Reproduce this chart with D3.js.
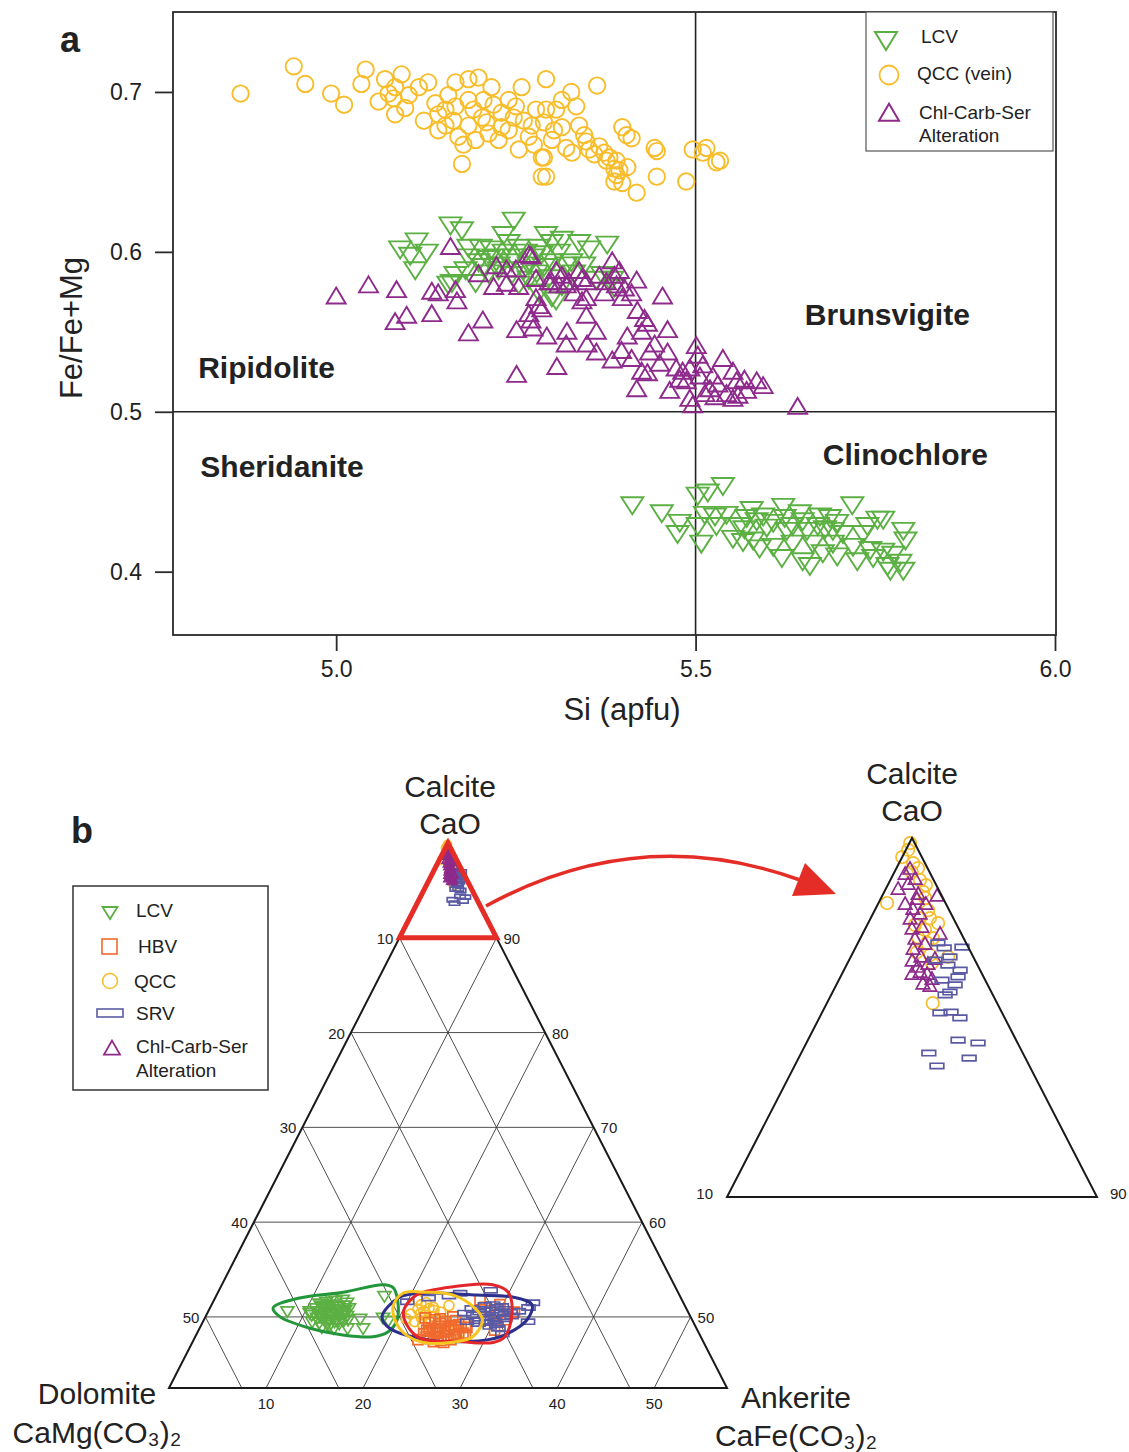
<!DOCTYPE html>
<html>
<head>
<meta charset="utf-8">
<script src="https://cdn.jsdelivr.net/npm/d3@7"></script>
<style>
  body { margin: 0; background: #fff; }
  text { font-family: "Liberation Sans", Arial, sans-serif; fill: #222; }
</style>
</head>
<body>
<div id="chart"></div>
<script>
// ---------- panel a data: [Si apfu, Fe/(Fe+Mg)] ----------
var qccVein = [
  [4.867,0.699],[4.941,0.716],[4.957,0.705],[4.993,0.699],[5.011,0.692],[5.041,0.714],[5.035,0.705],
  [5.068,0.708],[5.091,0.711],[5.059,0.694],[5.073,0.699],[5.082,0.703],[5.096,0.690],[5.082,0.686],
  [5.115,0.703],[5.128,0.706],[5.122,0.682],[5.138,0.693],[5.152,0.679],[5.166,0.706],[5.184,0.708],
  [5.198,0.709],[5.175,0.655],[5.166,0.691],[5.184,0.695],[5.203,0.684],[5.216,0.703],[5.212,0.674],
  [5.230,0.678],[5.258,0.703],[5.286,0.647],[5.286,0.659],[5.254,0.664],[5.230,0.687],[5.250,0.691],
  [5.278,0.689],[5.194,0.670],[5.170,0.672],[5.152,0.689],[5.268,0.672],[5.080,0.696],[5.101,0.698],
  [5.142,0.676],[5.184,0.679],[5.205,0.695],[5.226,0.670],[5.240,0.676],[5.177,0.667],[5.163,0.682],
  [5.191,0.689],[5.219,0.692],[5.261,0.682],[5.240,0.695],[5.292,0.708],[5.363,0.704],[5.327,0.700],
  [5.314,0.695],[5.334,0.691],[5.292,0.689],[5.306,0.689],[5.338,0.679],[5.289,0.681],[5.314,0.678],
  [5.398,0.678],[5.404,0.673],[5.411,0.671],[5.300,0.670],[5.348,0.669],[5.320,0.665],[5.328,0.662],
  [5.366,0.666],[5.373,0.662],[5.380,0.659],[5.390,0.657],[5.443,0.665],[5.446,0.663],[5.496,0.664],
  [5.515,0.665],[5.510,0.662],[5.534,0.657],[5.529,0.656],[5.289,0.659],[5.292,0.647],[5.387,0.652],
  [5.405,0.653],[5.390,0.648],[5.387,0.644],[5.398,0.643],[5.446,0.647],[5.487,0.644],[5.418,0.637],
  [5.376,0.657],[5.352,0.664],[5.345,0.673],[5.359,0.661],[5.394,0.651],[5.275,0.667],[5.303,0.676],
  [5.156,0.698],[5.142,0.686],[5.247,0.684],[5.209,0.681],[5.272,0.679]
];
var lcvChl = [
  [5.089,0.603],[5.112,0.608],[5.103,0.599],[5.126,0.601],[5.110,0.590],[5.159,0.618],[5.175,0.615],
  [5.247,0.621],[5.233,0.612],[5.201,0.604],[5.216,0.603],[5.264,0.601],[5.292,0.612],[5.300,0.607],
  [5.314,0.609],[5.338,0.607],[5.352,0.603],[5.377,0.606],[5.286,0.600],[5.320,0.593],[5.184,0.598],
  [5.198,0.595],[5.212,0.597],[5.244,0.595],[5.268,0.593],[5.300,0.595],[5.327,0.595],[5.166,0.587],
  [5.156,0.581],[5.194,0.582],[5.180,0.590],[5.226,0.590],[5.362,0.584],[5.384,0.584],[5.300,0.573],
  [5.370,0.587],[5.387,0.579],[5.306,0.571],[5.161,0.582],[5.212,0.588],[5.244,0.587],[5.268,0.584],
  [5.233,0.601],[5.247,0.598],[5.254,0.604],[5.275,0.598],[5.289,0.592],[5.261,0.590],[5.282,0.604],
  [5.310,0.601],[5.205,0.592],[5.219,0.598],[5.184,0.604],[5.226,0.593],[5.240,0.607],[5.279,0.588],
  [5.296,0.585],[5.331,0.588],[5.345,0.593],[5.254,0.581],[5.314,0.580],[5.282,0.576],
  // clinochlore group
  [5.412,0.443],[5.453,0.438],[5.478,0.432],[5.475,0.425],[5.503,0.449],[5.517,0.451],[5.538,0.455],
  [5.503,0.430],[5.508,0.419],[5.529,0.430],[5.527,0.436],[5.543,0.437],[5.552,0.422],[5.561,0.430],
  [5.571,0.435],[5.578,0.440],[5.585,0.433],[5.594,0.436],[5.589,0.416],[5.599,0.429],[5.608,0.417],
  [5.608,0.432],[5.622,0.442],[5.624,0.435],[5.620,0.410],[5.635,0.419],[5.635,0.430],[5.645,0.438],
  [5.649,0.433],[5.649,0.408],[5.659,0.405],[5.663,0.419],[5.670,0.430],[5.673,0.436],[5.677,0.413],
  [5.687,0.435],[5.691,0.419],[5.697,0.411],[5.705,0.425],[5.718,0.443],[5.719,0.417],[5.725,0.408],
  [5.733,0.425],[5.739,0.430],[5.743,0.415],[5.753,0.434],[5.761,0.434],[5.747,0.410],[5.761,0.414],
  [5.767,0.405],[5.771,0.402],[5.785,0.407],[5.789,0.427],[5.792,0.421],[5.789,0.402],[5.775,0.412],
  [5.566,0.420],[5.580,0.421],[5.627,0.427],[5.655,0.427],[5.697,0.432],[5.691,0.427],[5.513,0.437],
  [5.568,0.428],[5.680,0.428]
];
var ccsChl = [
  [5.000,0.571],[5.045,0.578],[5.084,0.575],[5.133,0.574],[5.142,0.573],[5.166,0.575],[5.168,0.568],
  [5.082,0.555],[5.098,0.559],[5.133,0.560],[5.184,0.548],[5.204,0.556],[5.159,0.602],[5.223,0.590],
  [5.251,0.550],[5.271,0.556],[5.274,0.551],[5.293,0.546],[5.321,0.549],[5.320,0.541],[5.307,0.527],
  [5.251,0.522],[5.348,0.559],[5.349,0.541],[5.362,0.536],[5.384,0.593],[5.387,0.584],[5.398,0.570],
  [5.418,0.581],[5.419,0.562],[5.429,0.557],[5.433,0.554],[5.454,0.571],[5.461,0.550],[5.405,0.546],
  [5.425,0.549],[5.384,0.531],[5.397,0.537],[5.411,0.532],[5.436,0.536],[5.461,0.536],[5.425,0.524],
  [5.433,0.523],[5.418,0.513],[5.464,0.512],[5.482,0.524],[5.487,0.518],[5.492,0.507],[5.501,0.540],
  [5.503,0.534],[5.510,0.528],[5.524,0.521],[5.538,0.532],[5.520,0.513],[5.552,0.524],[5.557,0.518],
  [5.571,0.512],[5.552,0.507],[5.585,0.518],[5.594,0.515],[5.642,0.502],[5.496,0.503],[5.543,0.510],
  [5.559,0.509],[5.478,0.519],[5.473,0.526],[5.362,0.549],[5.342,0.568],[5.348,0.580],[5.376,0.580],
  [5.390,0.578],[5.314,0.584],[5.310,0.578],[5.296,0.580],[5.278,0.570],[5.286,0.563],[5.268,0.560],
  [5.324,0.580],[5.306,0.587],[5.338,0.587],[5.268,0.597],[5.237,0.579],[5.198,0.585],[5.219,0.577],
  [5.237,0.588],[5.250,0.588],[5.271,0.596],[5.254,0.577],[5.278,0.582],[5.300,0.580],[5.320,0.578],
  [5.342,0.582],[5.366,0.584],[5.394,0.587],[5.348,0.570],[5.282,0.565],[5.401,0.576],[5.411,0.573],
  [5.373,0.573],[5.331,0.573],[5.443,0.541],[5.450,0.529],[5.506,0.521],[5.531,0.516],[5.568,0.519],
  [5.492,0.526],[5.513,0.510],[5.527,0.508]
];
var siTicks = [5.0, 5.5, 6.0];
var feTicks = [0.4, 0.5, 0.6, 0.7];
var fieldNames = [["Ripidolite",4.808,0.521],["Sheridanite",4.811,0.459],["Brunsvigite",5.652,0.554],["Clinochlore",5.677,0.467]];

// ---------- panel b data: [CaO, FeO], MgO = rest ----------
var ternLCV = [
  [50.7,8.1],[50.7,10.4],[49.7,13.7],[48.9,15.2],[49.9,16.0],[48.9,16.8],[52.3,17.3],[50.0,18.3],[49.7,19.0],
  [51.5,11.0],[51.0,11.8],[50.5,12.3],[50.0,11.5],[49.5,12.0],[51.8,12.5],[51.2,13.0],[50.4,13.4],[49.8,12.8],
  [49.2,13.2],[50.8,14.0],[50.2,14.5],[51.6,13.8],[49.6,11.2],[50.9,12.7],[50.3,10.8],[49.4,14.1],[51.3,11.4],
  [50.6,13.9],[49.0,12.5],[52.0,12.0],[50.1,13.1],[49.8,14.8],[51.0,10.9],[50.4,12.0],
  [51.2,11.5],[50.7,11.2],[49.9,12.2],[50.3,12.9],[51.4,12.2],[50.8,13.3],[49.6,13.5],[51.0,14.3],[50.0,14.0],
  [50.5,10.5],[51.7,11.6],[49.3,12.9],[50.9,11.9],[51.9,13.2],[50.2,11.7],[49.7,14.4],[50.6,12.6],[51.3,13.6],
  [48.9,13.8],[50.4,14.2]
];
var ternHBV = [
  [49.0,24.5],[48.5,25.5],[48.0,26.0],[49.2,26.5],[48.8,24.0],[47.8,25.0],[48.2,27.0],[49.5,25.0],[48.6,23.5],
  [47.6,26.5],[48.9,27.5],[49.8,24.3],[48.3,24.8],[47.9,23.8],[49.1,25.8],[48.0,27.8],[47.5,25.5],[48.7,26.2],
  [50.0,25.5],[49.4,23.3],[51.8,27.4],[51.3,29.7],[50.7,29.0],[49.7,31.0],[48.6,30.5],[50.5,31.6],[49.9,22.7],
  [47.6,23.1],[51.0,28.3],[50.2,30.0],
  [48.4,25.0],[49.0,25.2],[48.1,26.6],[48.9,26.9],[47.7,24.3],[49.3,24.6],[48.5,23.8],[48.0,25.6],[49.6,26.0],
  [48.3,27.4],[47.4,24.8],[48.8,25.7],[49.2,27.2],[47.9,26.9],[48.6,24.4],[49.7,23.8],[48.2,23.4],[47.3,25.9]
];
var ternQCC = [
  [50.2,22.5],[50.8,21.5],[51.5,22.0],[49.5,21.8],[50.0,23.5],[51.0,23.0],[49.8,20.8],[50.5,24.0],[51.8,21.0],
  [49.2,22.8],[50.3,21.0],[48.8,23.8],[51.2,24.5],[50.6,22.2],[49.6,24.8],[48.5,25.5],[49.0,26.5],[48.2,27.0],
  [50.4,22.0],[49.9,22.3],[50.7,23.2],[51.3,21.6],[49.7,23.2],[50.9,22.6],
  // calcite end
  [99.86,0.02],[99.47,0.0],[99.3,0.38],[99.05,0.47],[99.16,0.58],[98.19,0.23],[98.69,1.03],[98.5,1.05],
  [98.33,1.19],[97.99,1.44],[97.77,1.60],[97.77,1.33],[97.63,1.89],[97.24,1.54],[97.08,1.87],[97.21,1.96],
  [96.82,1.72],[96.74,2.12],[96.69,2.63],[96.52,2.28],[95.4,2.86],[99.67,0.06],[98.83,0.80],[97.58,1.29],
  [97.44,1.63]
];
var ternSRV = [
  [50.5,28.0],[50.0,29.0],[49.6,30.0],[50.8,30.5],[50.2,27.5],[49.3,28.5],[51.0,29.5],[49.8,31.0],[50.4,26.5],
  [49.0,29.8],[50.9,27.0],[49.5,27.2],[50.1,31.5],[51.2,28.2],[48.8,30.8],[50.6,32.0],[52.5,25.0],[52.0,22.0],
  [51.6,20.0],[52.2,24.0],[51.5,33.0],[51.0,32.8],[49.5,33.5],[48.2,31.5],[52.8,28.0],
  [50.3,28.6],[49.9,29.6],[50.7,29.2],[49.6,28.1],[50.4,30.3],[51.1,30.0],[49.2,30.4],[50.0,30.8],[50.8,27.8],
  [49.4,29.2],[50.5,31.2],[51.3,29.0],
  // calcite end
  [97.08,2.16],[96.94,2.40],[96.96,2.87],[96.69,2.68],[96.32,3.14],[96.13,3.18],[96.04,2.79],[95.71,3.17],
  [95.63,3.08],[95.13,3.19],[95.15,3.48],[94.99,3.80],[94.37,4.06],[94.29,4.64],[94.01,3.45],[93.87,4.61],
  [93.65,3.85],[96.46,2.74],[95.91,3.21],[96.6,2.32]
];
var ternCCS = [
  [98.55,0.35],[98.13,0.75],[97.44,1.28],[96.55,1.73],[96.24,2.10],[98.36,1.50],[95.85,2.56],[99.11,0.39],
  [98.83,0.67],[98.69,0.55],[98.41,0.96],[97.99,1.03],[97.86,1.29],[97.72,1.09],[97.49,1.52],[97.16,1.50],
  [97.02,1.84],[96.88,1.59],[96.66,1.91],[96.38,1.97],[96.18,2.32],[96.04,2.52],[95.91,2.34],[98.27,1.00],
  [98.97,0.33],[98.13,1.31],[96.6,2.32],[96.18,1.91],[96.46,2.20],[97.3,2.11]
];
var hullLCV = [[50.95,6.5],[52.0,8.7],[52.6,12.9],[53.4,16.6],[53.1,17.8],[51.8,18.9],[49.7,19.9],[48.4,19.6],[47.9,18.3],[48.1,15.1],[48.8,11.4],[50.0,7.7]];
var hullQCC = [[51.05,18.8],[52.5,19.1],[52.6,21.5],[52.3,24.4],[51.05,27.1],[49.7,28.7],[47.9,28.6],[47.3,26.6],[47.4,23.4],[48.8,20.6]];
var hullHBV = [[50.4,20.2],[52.3,20.6],[53.1,23.4],[53.4,27.9],[52.6,29.9],[50.4,31.4],[47.9,31.9],[47.3,31.0],[47.4,27.6],[47.9,22.9]];
var hullSRV = [[50.0,18.2],[52.1,19.0],[52.5,21.6],[52.3,26.8],[52.1,30.6],[51.3,33.0],[49.7,33.3],[47.9,31.4],[47.4,28.3],[47.6,24.0],[48.8,19.6]];
var gridLevels = [10, 20, 30, 40, 50];
var baseCa = 42.5; // bottom edge of the diagram

var colLCV = "#5cb043", colQCC = "#f8bd2b", colCCS = "#8d2a8b", colHBV = "#f06a2e", colSRV = "#5a5aa4";

var svg = d3.select("#chart").append("svg").attr("width", 1129).attr("height", 1452);

// marker paths
function tri(w, h, down) {
  var s = down ? -1 : 1;
  return "M0," + (-s * h * 2 / 3) + "L" + (w / 2) + "," + (s * h / 3) + "L" + (-w / 2) + "," + (s * h / 3) + "Z";
}

// ================= panel a =================
var xA = d3.scaleLinear().domain([4.773, 6.0014]).range([173, 1056]);
var yA = d3.scaleLinear().domain([0.3604, 0.75]).range([635, 12]);
var gA = svg.append("g");

gA.append("line").attr("x1", xA(5.5)).attr("x2", xA(5.5)).attr("y1", 12).attr("y2", 635)
  .attr("stroke", "#222").attr("stroke-width", 1.6);
gA.append("line").attr("x1", 173).attr("x2", 1056).attr("y1", yA(0.5)).attr("y2", yA(0.5))
  .attr("stroke", "#222").attr("stroke-width", 1.6);

gA.selectAll(".qcc").data(qccVein).enter().append("circle")
  .attr("cx", function(d) { return xA(d[0]); })
  .attr("cy", function(d) { return yA(d[1]); })
  .attr("r", 8.2).attr("fill", "none").attr("stroke", colQCC).attr("stroke-width", 1.9);

gA.selectAll(".lcv").data(lcvChl).enter().append("path")
  .attr("d", tri(22, 17, true))
  .attr("transform", function(d) { return "translate(" + xA(d[0]) + "," + yA(d[1]) + ")"; })
  .attr("fill", "none").attr("stroke", colLCV).attr("stroke-width", 1.9);

gA.selectAll(".ccs").data(ccsChl).enter().append("path")
  .attr("d", tri(19, 16, false))
  .attr("transform", function(d) { return "translate(" + xA(d[0]) + "," + yA(d[1]) + ")"; })
  .attr("fill", "none").attr("stroke", colCCS).attr("stroke-width", 1.9);

// frame
gA.append("rect").attr("x", 173).attr("y", 12).attr("width", 883).attr("height", 623)
  .attr("fill", "none").attr("stroke", "#2a2a2a").attr("stroke-width", 1.8);

var xAxis = gA.append("g").attr("transform", "translate(0,635)")
  .call(d3.axisBottom(xA).tickValues(siTicks).tickFormat(d3.format(".1f")).tickSize(16).tickPadding(10));
var yAxis = gA.append("g").attr("transform", "translate(173,0)")
  .call(d3.axisLeft(yA).tickValues(feTicks).tickFormat(d3.format(".1f")).tickSize(18).tickPadding(13));
[xAxis, yAxis].forEach(function(ax) {
  ax.select(".domain").remove();
  ax.selectAll("line").attr("stroke", "#2a2a2a").attr("stroke-width", 1.8);
  ax.selectAll("text").style("font-size", "23px").attr("fill", "#2a2a2a")
    .style("font-family", "'Liberation Sans', Arial, sans-serif");
});

gA.append("text").attr("x", 622).attr("y", 720).attr("text-anchor", "middle")
  .style("font-size", "31px").text("Si (apfu)");
gA.append("text").attr("transform", "translate(82,328) rotate(-90)").attr("text-anchor", "middle")
  .style("font-size", "31px").text("Fe/Fe+Mg");
gA.append("text").attr("x", 60).attr("y", 52).style("font-size", "36px").style("font-weight", "bold").text("a");

gA.selectAll(".field").data(fieldNames).enter().append("text")
  .attr("x", function(d) { return xA(d[1]); })
  .attr("y", function(d) { return yA(d[2]); })
  .style("font-size", "30px").style("font-weight", "bold").text(function(d) { return d[0]; });

// legend a
var legA = gA.append("g");
legA.append("rect").attr("x", 866).attr("y", 12).attr("width", 187).attr("height", 139)
  .attr("fill", "#fff").attr("stroke", "#555").attr("stroke-width", 1.2);
legA.append("path").attr("d", tri(22, 18, true)).attr("transform", "translate(886,38)")
  .attr("fill", "none").attr("stroke", colLCV).attr("stroke-width", 2);
legA.append("circle").attr("cx", 889).attr("cy", 75).attr("r", 9.5)
  .attr("fill", "none").attr("stroke", colQCC).attr("stroke-width", 1.8);
legA.append("path").attr("d", tri(20, 17, false)).attr("transform", "translate(889,115)")
  .attr("fill", "none").attr("stroke", colCCS).attr("stroke-width", 2);
var legAText = [["LCV", 921, 43], ["QCC (vein)", 917, 80], ["Chl-Carb-Ser", 919, 119], ["Alteration", 919, 142]];
legA.selectAll(".lt").data(legAText).enter().append("text")
  .attr("x", function(d) { return d[1]; }).attr("y", function(d) { return d[2]; })
  .style("font-size", "19px").text(function(d) { return d[0]; });

// ================= panel b =================
// main ternary: depth below CaO apex (100 - CaO) and horizontal offset
var yT = d3.scaleLinear().domain([0, 100 - baseCa]).range([843, 1388]);
var xT = d3.scaleLinear().domain([-(100 - baseCa) / 2, (100 - baseCa) / 2]).range([169, 727]);
function pT(ca, fe) { var L = 100 - ca; return [xT(fe - L / 2), yT(L)]; }
// inset ternary: CaO 90-100
var yI = d3.scaleLinear().domain([0, 10]).range([838, 1197]);
var xI = d3.scaleLinear().domain([-5, 5]).range([727, 1097]);
function pI(ca, fe) { var L = 100 - ca; return [xI(fe - L / 2), yI(L)]; }

var gB = svg.append("g");
var lineGen = d3.line();

// grid
var depthMax = 100 - baseCa;
gridLevels.forEach(function(c) {
  var segs = [
    [pT(100 - c, 0), pT(100 - c, c)],
    [pT(100 - c, c), pT(baseCa, c)],
    [pT(100 - c, 0), pT(baseCa, depthMax - c)]
  ];
  segs.forEach(function(s) {
    gB.append("path").attr("d", lineGen(s)).attr("stroke", "#3a3a3a").attr("stroke-width", 0.9).attr("fill", "none");
  });
});

function drawSeries(g, data, proj, kind, color, scale) {
  g.selectAll(null).data(data).enter().append("path")
    .attr("d", function(d) {
      var s = scale(d);
      if (kind === "down") return tri(13 * s, 10.5 * s, true);
      if (kind === "up") return tri(10 * s, 9 * s, false);
      if (kind === "sq") return "M" + (-5 * s) + "," + (-5 * s) + "h" + (10 * s) + "v" + (10 * s) + "h" + (-10 * s) + "Z";
      if (kind === "rect") return "M" + (-6.5 * s) + "," + (-2.6 * s) + "h" + (13 * s) + "v" + (5.2 * s) + "h" + (-13 * s) + "Z";
      return d3.arc()({ innerRadius: 0, outerRadius: 5 * s, startAngle: 0, endAngle: 2 * Math.PI });
    })
    .attr("transform", function(d) { var p = proj(d[0], d[1]); return "translate(" + p[0] + "," + p[1] + ")"; })
    .attr("fill", "none").attr("stroke", color).attr("stroke-width", 1.7);
}
var mainScale = function(d) { return d[0] > 80 ? 0.8 : 1; };
drawSeries(gB, ternLCV, pT, "down", colLCV, mainScale);
drawSeries(gB, ternQCC, pT, "circ", colQCC, mainScale);
drawSeries(gB, ternHBV, pT, "sq", colHBV, mainScale);
drawSeries(gB, ternSRV, pT, "rect", colSRV, mainScale);
drawSeries(gB, ternCCS, pT, "up", colCCS, mainScale);

// hulls
var hullGen = d3.line().curve(d3.curveCatmullRomClosed.alpha(0.5));
[[hullLCV, "#23963b"], [hullSRV, "#2d2f8c"], [hullHBV, "#e3262a"], [hullQCC, "#f7c51e"]].forEach(function(h) {
  gB.append("path").attr("d", hullGen(h[0].map(function(d) { return pT(d[0], d[1]); })))
    .attr("fill", "none").attr("stroke", h[1]).attr("stroke-width", 3);
});

// outer triangle
gB.append("path").attr("d", lineGen([pT(100, 0), pT(baseCa, 0), pT(baseCa, depthMax)]) + "Z")
  .attr("fill", "none").attr("stroke", "#1a1a1a").attr("stroke-width", 2);

// edge labels
gB.selectAll(".ll").data(gridLevels).enter().append("text")
  .attr("x", function(d) { return pT(100 - d, 0)[0] - 6; })
  .attr("y", function(d) { return pT(100 - d, 0)[1] + 6; })
  .attr("text-anchor", "end").style("font-size", "15px").attr("fill", "#333")
  .text(function(d) { return d; });
gB.selectAll(".rl").data(gridLevels).enter().append("text")
  .attr("x", function(d) { return pT(100 - d, d)[0] + 7; })
  .attr("y", function(d) { return pT(100 - d, d)[1] + 6; })
  .attr("text-anchor", "start").style("font-size", "15px").attr("fill", "#333")
  .text(function(d) { return 100 - d; });
gB.selectAll(".bl").data(gridLevels).enter().append("text")
  .attr("x", function(d) { return pT(baseCa, d)[0]; })
  .attr("y", 1409)
  .attr("text-anchor", "middle").style("font-size", "15px").attr("fill", "#333")
  .text(function(d) { return d; });

// red zoom triangle
gB.append("path").attr("d", lineGen([pT(100, 0), pT(90, 0), pT(90, 10)]) + "Z")
  .attr("fill", "none").attr("stroke", "#e52d27").attr("stroke-width", 5).attr("stroke-linejoin", "miter");

// arrow
var arrow = d3.path();
arrow.moveTo(486, 906);
arrow.quadraticCurveTo(640, 822, 800, 880);
gB.append("path").attr("d", arrow.toString()).attr("fill", "none").attr("stroke", "#e52d27").attr("stroke-width", 3.5);
gB.append("path").attr("d", "M836,894L792,896L805,863Z").attr("fill", "#e52d27");

// inset triangle
var gI = svg.append("g");
var insetScale = function() { return 1.25; };
drawSeries(gI, ternQCC.filter(function(d) { return d[0] >= 90; }), pI, "circ", colQCC, insetScale);
drawSeries(gI, ternCCS, pI, "up", colCCS, function() { return 1.35; });
drawSeries(gI, ternSRV.filter(function(d) { return d[0] >= 90; }), pI, "rect", colSRV, function() { return 1.05; });
gI.append("path").attr("d", lineGen([pI(100, 0), pI(90, 0), pI(90, 10)]) + "Z")
  .attr("fill", "none").attr("stroke", "#1a1a1a").attr("stroke-width", 2);
gI.append("text").attr("x", pI(90, 0)[0] - 14).attr("y", 1199).attr("text-anchor", "end")
  .style("font-size", "15px").attr("fill", "#333").text("10");
gI.append("text").attr("x", pI(90, 10)[0] + 13).attr("y", 1199).attr("text-anchor", "start")
  .style("font-size", "15px").attr("fill", "#333").text("90");

// vertex names
var vertexText = [
  ["Calcite", 450, 797], ["CaO", 450, 834], ["Calcite", 912, 784], ["CaO", 912, 821],
  ["Dolomite", 97, 1404], ["CaMg(CO\u2083)\u2082", 97, 1443], ["Ankerite", 796, 1408], ["CaFe(CO\u2083)\u2082", 796, 1446]
];
svg.selectAll(".vt").data(vertexText).enter().append("text")
  .attr("x", function(d) { return d[1]; }).attr("y", function(d) { return d[2]; })
  .attr("text-anchor", "middle").style("font-size", "30px").text(function(d) { return d[0]; });
svg.append("text").attr("x", 71).attr("y", 843).style("font-size", "36px").style("font-weight", "bold").text("b");

// legend b
var legB = svg.append("g");
legB.append("rect").attr("x", 73).attr("y", 886).attr("width", 195).attr("height", 204)
  .attr("fill", "#fff").attr("stroke", "#333").attr("stroke-width", 1.5);
legB.append("path").attr("d", tri(15, 12, true)).attr("transform", "translate(110,911)")
  .attr("fill", "none").attr("stroke", colLCV).attr("stroke-width", 1.8);
legB.append("rect").attr("x", 102).attr("y", 939).attr("width", 15).attr("height", 15)
  .attr("fill", "none").attr("stroke", colHBV).attr("stroke-width", 1.6);
legB.append("circle").attr("cx", 110).attr("cy", 981).attr("r", 7.5)
  .attr("fill", "none").attr("stroke", colQCC).attr("stroke-width", 1.6);
legB.append("rect").attr("x", 97).attr("y", 1009).attr("width", 26).attr("height", 8)
  .attr("fill", "none").attr("stroke", colSRV).attr("stroke-width", 1.6);
legB.append("path").attr("d", tri(16, 14, false)).attr("transform", "translate(112,1050)")
  .attr("fill", "none").attr("stroke", colCCS).attr("stroke-width", 1.8);
var legBText = [["LCV", 136, 917], ["HBV", 138, 953], ["QCC", 134, 988], ["SRV", 136, 1020],
  ["Chl-Carb-Ser", 136, 1053], ["Alteration", 136, 1077]];
legB.selectAll(".lbt").data(legBText).enter().append("text")
  .attr("x", function(d) { return d[1]; }).attr("y", function(d) { return d[2]; })
  .style("font-size", "19px").text(function(d) { return d[0]; });
</script>
</body>
</html>
